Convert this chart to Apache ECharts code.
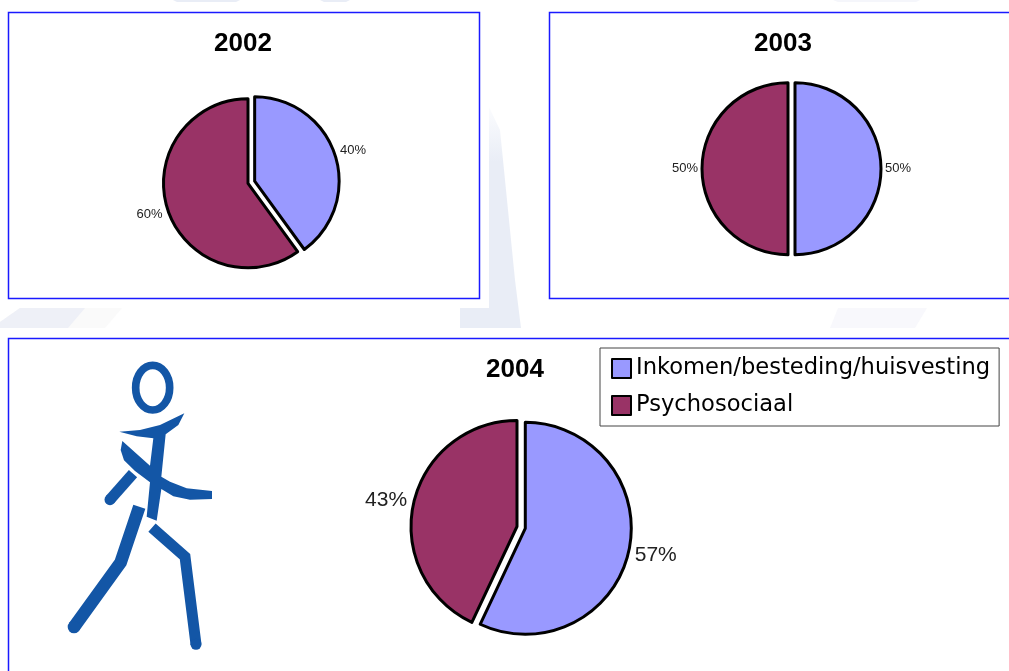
<!DOCTYPE html>
<html>
<head>
<meta charset="utf-8">
<title>Inkomen en psychosociaal 2002-2004</title>
<style>
  html, body { margin: 0; padding: 0; background: #fff; }
  #chart { width: 1009px; height: 671px; }
</style>
<script src="https://cdn.jsdelivr.net/npm/echarts@6/dist/echarts.min.js"></script>
</head>
<body>
<div id="chart"></div>
<script>
const categories = ['Inkomen/besteding/huisvesting', 'Psychosociaal'];
const years = ['2002', '2003', '2004'];
const values2002 = [40, 60];
const values2003 = [50, 50];
const values2004 = [57, 43];

const BLUE = '#9999ff';
const MAROON = '#993366';
const FRAME = '#1a1aff';
const RUNNER = '#1356a6';

function makePie(values, center, radius, fontSize, offset, nudges) {
  return {
    type: 'pie',
    center: center,
    radius: [0, radius],
    startAngle: 90,
    clockwise: true,
    animation: false,
    silent: true,
    avoidLabelOverlap: false,
    selectedMode: 'single',
    selectedOffset: offset,
    itemStyle: { borderColor: '#000', borderWidth: 3 },
    select: { itemStyle: { borderColor: '#000', borderWidth: 3 } },
    label: {
      show: true,
      position: 'outside',
      formatter: '{d}%',
      fontFamily: 'Liberation Sans',
      fontSize: fontSize,
      color: '#222'
    },
    labelLine: { show: false, length: 0, length2: 0 },
    labelLayout: (params) => ({ dx: nudges[params.dataIndex][0], dy: nudges[params.dataIndex][1] }),
    data: categories.map((name, i) => ({
      name: name,
      value: values[i],
      selected: i === 0,
      itemStyle: { color: i === 0 ? BLUE : MAROON }
    }))
  };
}

function makeTitle(text, x, y) {
  return {
    text: text,
    left: x,
    top: y,
    textAlign: 'center',
    textStyle: { fontFamily: 'Liberation Sans', fontWeight: 'bold', fontSize: 26, color: '#000' }
  };
}

function frame(x, y, w, h) {
  return {
    type: 'rect',
    z: 1,
    shape: { x: x + 0.5, y: y + 0.5, width: w, height: h },
    style: { fill: '#fff', stroke: FRAME, lineWidth: 1.5 }
  };
}

function wash(points, fill) {
  return { type: 'polygon', z: 0, shape: { points: points }, style: { fill: fill } };
}

function runnerLine(points, width) {
  return {
    type: 'polyline',
    z: 2,
    shape: { points: points },
    style: { fill: 'none', stroke: RUNNER, lineWidth: width, lineJoin: 'miter' }
  };
}

function runnerFill(points) {
  return { type: 'polygon', z: 2, shape: { points: points }, style: { fill: RUNNER } };
}

function runnerEnd(x, y, r) {
  return { type: 'circle', z: 2, shape: { cx: x, cy: y, r: r }, style: { fill: RUNNER } };
}

const chart = echarts.init(document.getElementById('chart'));
chart.setOption({
  backgroundColor: '#fff',
  animation: false,
  title: [
    makeTitle(years[0], 238, 26),
    makeTitle(years[1], 778, 26),
    makeTitle(years[2], 510, 352)
  ],
  legend: {
    orient: 'vertical',
    left: 600,
    top: 348,
    selectedMode: false,
    backgroundColor: '#fff',
    borderColor: '#444',
    borderWidth: 1,
    padding: [9, 9, 9, 11],
    itemGap: 14,
    itemWidth: 19,
    itemHeight: 19,
    icon: 'rect',
    itemStyle: { borderColor: '#000', borderWidth: 2 },
    textStyle: { fontFamily: 'DejaVu Sans', fontSize: 22.6, color: '#000' },
    data: categories
  },
  series: [
    makePie(values2002, [248, 183.3], 84.5, 13, 7, [[0, -5], [0, 5]]),
    makePie(values2003, [788, 168.7], 86, 13, 7, [[-1, 0], [1, 0]]),
    makePie(values2004, [517, 526.5], 106, 21, 8.5, [[1, 4], [-1.5, -3]])
  ],
  graphic: [
    // faint watermark that shows between the panels
    wash([[0, 328], [0, 322], [20, 308], [122, 308], [105, 328]], '#fafafa'),
    wash([[0, 328], [0, 322], [20, 308], [85, 308], [68, 328]], '#eef0f7'),
    wash([[460, 328], [460, 308], [489, 308], [489, 107], [500, 130], [507, 200], [515, 280], [521, 328]], new echarts.graphic.LinearGradient(0, 0, 0, 1, [
      { offset: 0, color: '#fbfcfe' },
      { offset: 0.25, color: '#e9edf6' },
      { offset: 1, color: '#e9edf6' }
    ])),
    wash([[830, 328], [838, 308], [927, 308], [915, 328]], '#f8f8fc'),
    wash([[173, 0], [240, 0], [236, 2], [177, 2]], '#e9edf6'),
    wash([[320, 0], [350, 0], [346, 2], [324, 2]], '#e9edf6'),
    wash([[833, 0], [920, 0], [916, 2], [838, 2]], '#f5f6fb'),
    frame(8, 12, 471, 286),
    frame(549, 12, 470, 286),
    frame(8, 338, 1011, 343),
    {
      type: 'group',
      x: 0,
      y: 335,
      scaleX: 1 / 3,
      scaleY: 1 / 3,
      children: [
        { type: 'ellipse', z: 2, shape: { cx: 458, cy: 158, rx: 51, ry: 67 }, style: { fill: 'none', stroke: RUNNER, lineWidth: 23 } },
        // shoulders, torso and front arm
        runnerFill([[358, 290], [420, 285], [480, 270], [553, 235], [535, 270], [497, 298], [484, 425], [510, 440], [560, 460], [636, 468], [636, 492], [570, 494], [520, 484], [484, 462], [470, 557], [440, 545], [450, 442], [405, 408], [372, 376], [362, 345], [367, 318], [450, 392], [460, 310], [410, 304]]),
        runnerEnd(624, 480, 12),
        runnerLine([[399, 416], [330, 494]], 33),
        runnerEnd(330, 494, 16.5),
        runnerLine([[418, 515], [362, 682], [222, 876]], 38),
        runnerEnd(222, 876, 19),
        runnerLine([[456, 578], [555, 665], [588, 928]], 33),
        runnerEnd(588, 928, 16.5)
      ]
    }
  ]
});
</script>
</body>
</html>
